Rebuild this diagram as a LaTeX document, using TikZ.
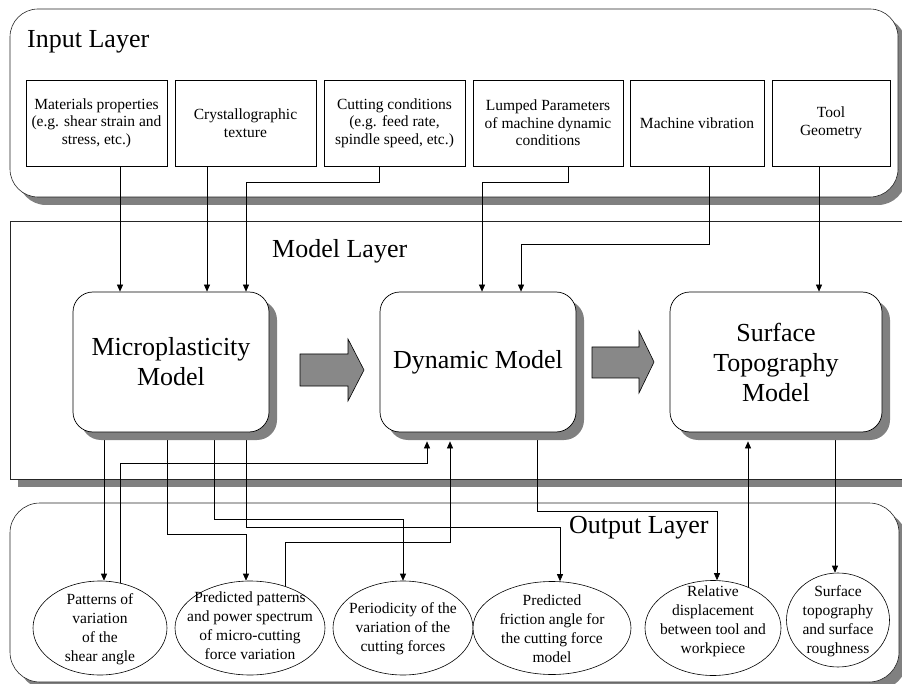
\documentclass[tikz,border=0pt]{standalone}
\usepackage{fontspec}
\setmainfont{Liberation Serif}
\usetikzlibrary{arrows.meta,shapes.geometric,shadows,calc}
\pgfdeclarelayer{bg}
\pgfdeclarelayer{mid}
\pgfsetlayers{bg,mid,main}
\definecolor{shgray}{RGB}{128,128,128}
\definecolor{arrgray}{RGB}{136,136,136}
\begin{document}
\begin{tikzpicture}[x=1pt,y=-1pt,
  shad/.style={drop shadow={shadow xshift=8pt,shadow yshift=-8pt,fill=shgray,opacity=1}},
  layerbox/.style={draw=black!85,line width=0.6pt,fill=white,inner sep=0pt,shad},
  inbox/.style={draw,line width=0.6pt,fill=white,inner sep=0pt,minimum height=86pt,align=center,font=\fontsize{15.5}{17.5}\selectfont},
  modelbox/.style={draw,line width=0.7pt,fill=white,rounded corners=20pt,inner sep=0pt,minimum height=140pt,align=center,font=\fontsize{26}{30}\selectfont,shad},
  outell/.style={ellipse,draw,line width=0.6pt,fill=white,inner sep=0pt},
  otxt/.style={align=center,inner sep=0pt,font=\fontsize{15.5}{19}\selectfont},
  laytxt/.style={anchor=base west,inner sep=0pt,font=\fontsize{26}{30}\selectfont},
  conn/.style={line width=0.7pt},
  arr/.style={conn,-{Triangle[length=7pt,width=6pt]}},
  blockarr/.style={fill=arrgray,draw=black,line width=0.6pt}
]
\useasboundingbox (0,0) rectangle (902,684);
\clip (0,0) rectangle (902,684);

% ---------- layers ----------
\begin{pgfonlayer}{bg}
\node[layerbox,rounded corners=28pt,minimum width=888pt,minimum height=188pt] (inlayer) at (454,103) {};
\node[layerbox,minimum width=910pt,minimum height=258pt] (modlayer) at (465,350) {};
\node[layerbox,rounded corners=30pt,minimum width=889pt,minimum height=179pt] (outlayer) at (454.5,592.5) {};
\end{pgfonlayer}

\node[laytxt] (inlabel) at (27,48) {Input Layer};
\node[laytxt] (modlabel) at (272,258) {Model Layer};
\node[laytxt] (outlabel) at (569,533) {Output Layer};

% ---------- input boxes ----------
\node[inbox,minimum width=141pt] (b1) at (96.5,123) {Materials properties\\(e.g. shear strain and\\stress, etc.)};
\node[inbox,minimum width=141pt] (b2) at (245.5,123) {Crystallographic\\texture};
\node[inbox,minimum width=141pt] (b3) at (394.5,123) {Cutting conditions\\(e.g. feed rate,\\spindle speed, etc.)};
\node[inbox,minimum width=150pt] (b4) at (548,123) {Lumped Parameters\\of machine dynamic\\conditions};
\node[inbox,minimum width=134pt] (b5) at (697,123) {Machine vibration};
\node[inbox,minimum width=118pt] (b6) at (831,123) {Tool\\Geometry};

% ---------- model boxes ----------
\node[modelbox,minimum width=196pt] (mp) at (171,362) {Microplasticity\\Model};
\node[modelbox,minimum width=196pt] (dm) at (478,362) {Dynamic Model};
\node[modelbox,minimum width=212pt] (st) at (776,362) {Surface\\Topography\\Model};

% block arrows
\draw[blockarr] (300,354) -- (348,354) -- (348,339) -- (364,370) -- (348,401) -- (348,386) -- (300,386) -- cycle;
\draw[blockarr] (592,347) -- (639,347) -- (639,331) -- (654,362) -- (639,393) -- (639,378) -- (592,378) -- cycle;

% ---------- output ellipses ----------
\node[outell,minimum width=134pt,minimum height=94pt] (o1) at (100,628) {};
\node[outell,minimum width=150pt,minimum height=94pt] (o2) at (250,628) {};
\node[outell,minimum width=140pt,minimum height=94pt] (o3) at (403,628) {};
\node[outell,minimum width=158pt,minimum height=93pt] (o4) at (552,628) {};
\node[outell,minimum width=136pt,minimum height=95pt] (o5) at (713,628) {};
\node[outell,minimum width=103pt,minimum height=94pt] (o6) at (838,620) {};

\node[otxt] (o1t) at (100,629) {Patterns of\\variation\\of the\\shear angle};
\node[otxt] (o2t) at (250,626) {Predicted patterns\\and power spectrum\\of micro-cutting\\force variation};
\node[otxt] (o3t) at (403,629) {Periodicity of the\\variation of the\\cutting forces};
\node[otxt] (o4t) at (552,629) {Predicted\\friction angle for\\the cutting force\\model};
\node[otxt] (o5t) at (713,621) {Relative\\displacement\\between tool and\\workpiece};
\node[otxt] (o6t) at (838,621) {Surface\\topography\\and surface\\roughness};

% ---------- connectors ----------
\begin{pgfonlayer}{mid}
% input -> model
\draw[arr] (b1.south -| 120,0) -- (mp.north -| 120,0);
\draw[arr] (b2.south -| 207,0) -- (mp.north -| 207,0);
\draw[arr] (b3.south -| 379,0) -- (379,182) -- (246,182) -- (mp.north -| 246,0);
\draw[arr] (b4.south -| 568,0) -- (568,182) -- (482,182) -- (dm.north -| 482,0);
\draw[arr] (b5.south -| 709,0) -- (709,244) -- (521,244) -- (dm.north -| 521,0);
\draw[arr] (b6.south -| 819,0) -- (st.north -| 819,0);
% micro -> outputs
\draw[arr] (mp.south -| 104,0) -- (o1.north -| 104,0);
\draw[arr] (mp.south -| 167,0) -- (167,534) -- (246,534) -- (o2.north -| 246,0);
\draw[arr] (mp.south -| 214,0) -- (214,519) -- (403,519) -- (o3.north -| 403,0);
\draw[arr] (mp.south -| 246,0) -- (246,527) -- (560,527) -- (o4.north -| 560,0);
% outputs -> dynamic
\draw[arr] (o1.center -| 120,0) -- (120,463) -- (427,463) -- ($(dm.south -| 427,0)+(0,9)$);
\draw[arr] (o2.center -| 285,0) -- (285,542) -- (450,542) -- ($(dm.south -| 450,0)+(0,9)$);
% dynamic -> relative displacement
\draw[arr] (dm.south -| 537,0) -- (537,511) -- (717,511) -- (o5.north -| 717,0);
% relative displacement -> surface
\draw[arr] (o5.center -| 748,0) -- ($(st.south -| 748,0)+(0,9)$);
% surface -> surface roughness
\draw[arr] (st.south -| 835,0) -- (o6.north -| 835,0);
\end{pgfonlayer}
\end{tikzpicture}
\end{document}
